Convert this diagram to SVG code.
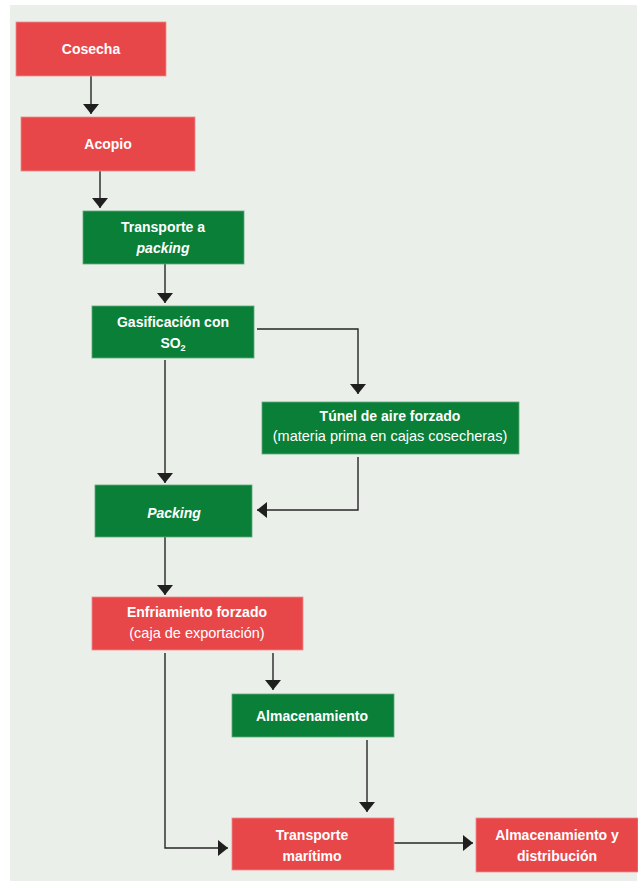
<svg xmlns="http://www.w3.org/2000/svg" width="638" height="881" viewBox="0 0 638 881">
<style>
.red{fill:#E8474A;stroke:#F08C8C;stroke-width:0.8}
.green{fill:#0A7F37;stroke:#5FAA7A;stroke-width:0.8}
.t{font-family:"Liberation Sans",Arial,sans-serif;font-size:14px;font-weight:bold;fill:#fff;text-anchor:middle}
.r{font-weight:normal;font-size:14.5px}
.i{font-style:italic}
.c{fill:none;stroke:#262626;stroke-width:1.4}
</style>
<defs>
<marker id="ah" viewBox="0 0 10 16" refX="10" refY="8" markerWidth="10" markerHeight="16" markerUnits="userSpaceOnUse" orient="auto">
<path d="M0,0 L10,8 L0,16 z" fill="#1f1f1f"/>
</marker>
</defs>
<rect x="10" y="5" width="627" height="876" fill="#EAEFE9"/>
<g id="connectors">
<path class="c" d="M91,76 V114" marker-end="url(#ah)"/>
<path class="c" d="M100,171 V208" marker-end="url(#ah)"/>
<path class="c" d="M165,264 V303" marker-end="url(#ah)"/>
<path class="c" d="M257,329 H358 V394" marker-end="url(#ah)"/>
<path class="c" d="M165,360 V483" marker-end="url(#ah)"/>
<path class="c" d="M358,457 V510 H257" marker-end="url(#ah)"/>
<path class="c" d="M165,537 V595" marker-end="url(#ah)"/>
<path class="c" d="M273,653 V690" marker-end="url(#ah)"/>
<path class="c" d="M165,653 V848 H228" marker-end="url(#ah)"/>
<path class="c" d="M367,740 V812" marker-end="url(#ah)"/>
<path class="c" d="M394,843 H473" marker-end="url(#ah)"/>
</g>
<g id="cosecha">
<rect class="red" x="16" y="22" width="150" height="54"/>
<text class="t" x="91" y="54">Cosecha</text>
</g>
<g id="acopio">
<rect class="red" x="21" y="117" width="174" height="54"/>
<text class="t" x="108" y="149">Acopio</text>
</g>
<g id="transporte-packing">
<rect class="green" x="83" y="211" width="161" height="53"/>
<text class="t" x="163" y="232">Transporte a</text>
<text class="t i" x="163" y="253">packing</text>
</g>
<g id="gasificacion">
<rect class="green" x="92" y="306" width="162" height="52"/>
<text class="t" x="173" y="327">Gasificación con</text>
<text class="t" x="173" y="348">SO<tspan font-size="9" dy="3">2</tspan></text>
</g>
<g id="tunel">
<rect class="green" x="262" y="402" width="257" height="52"/>
<text class="t" x="390" y="421">Túnel de aire forzado</text>
<text class="t r" x="390" y="441">(materia prima en cajas cosecheras)</text>
</g>
<g id="packing">
<rect class="green" x="95" y="485" width="157" height="52"/>
<text class="t i" x="174" y="518">Packing</text>
</g>
<g id="enfriamiento">
<rect class="red" x="92" y="597" width="211" height="53"/>
<text class="t" x="197" y="617">Enfriamiento forzado</text>
<text class="t r" x="197" y="638">(caja de exportación)</text>
</g>
<g id="almacenamiento">
<rect class="green" x="232" y="694" width="162" height="43"/>
<text class="t" x="312" y="721">Almacenamiento</text>
</g>
<g id="transporte-maritimo">
<rect class="red" x="232" y="818" width="162" height="52"/>
<text class="t" x="312" y="840">Transporte</text>
<text class="t" x="312" y="861">marítimo</text>
</g>
<g id="almacenamiento-distribucion">
<rect class="red" x="476" y="818" width="162" height="54"/>
<text class="t" x="557" y="840">Almacenamiento y</text>
<text class="t" x="557" y="861">distribución</text>
</g>
</svg>
